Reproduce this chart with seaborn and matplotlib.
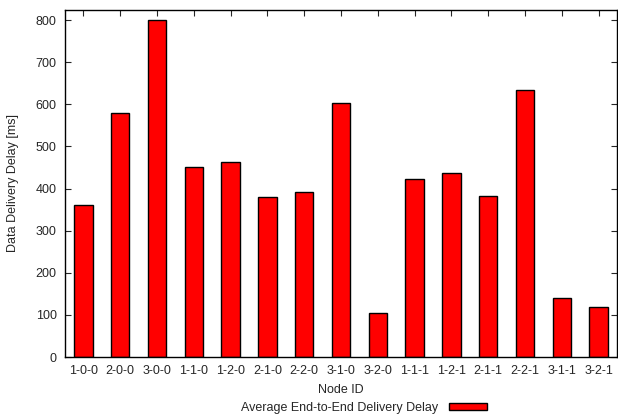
import matplotlib
matplotlib.use("Agg")
import matplotlib.pyplot as plt
import seaborn as sns
import pandas as pd
from matplotlib.patches import Patch

# data
nodes = ["1-0-0", "2-0-0", "3-0-0", "1-1-0", "1-2-0", "2-1-0", "2-2-0", "3-1-0",
         "3-2-0", "1-1-1", "1-2-1", "2-1-1", "2-2-1", "3-1-1", "3-2-1"]
delays = [361, 580, 800, 452, 464, 381, 393, 602, 105, 422, 436, 383, 635, 139, 118]
series_name = "Average End-to-End Delivery Delay"

df = pd.DataFrame({"Node": nodes, "Delay": delays})

sns.set_style("ticks")
plt.rcParams["font.family"] = ["Liberation Sans", "DejaVu Sans"]

fig = plt.figure(figsize=(6.18, 4.2), dpi=100)
ax = fig.add_axes([65 / 618, 1 - 357 / 420, 552 / 618, 347 / 420])

sns.barplot(data=df, x="Node", y="Delay", color="#ff0000", edgecolor="black",
            linewidth=1.0, width=0.5, saturation=1, ax=ax)

ax.set_xlim(-0.5, len(nodes) - 0.5)
ax.set_ylim(0, 824)
ax.set_yticks(range(0, 801, 100))
ax.set_xlabel("Node ID", fontsize=9, labelpad=5)
ax.set_ylabel("Data Delivery Delay [ms]", fontsize=9, labelpad=12)
ax.tick_params(axis="both", direction="in", top=True, right=True, labelsize=9,
               length=4, width=0.8, pad=6)
for sp in ax.spines.values():
    sp.set_visible(True)
    sp.set_linewidth(1.0)
    sp.set_color("black")

handle = Patch(facecolor="#ff0000", edgecolor="black", linewidth=1.0)
fig.legend([handle], [series_name], loc="center", bbox_to_anchor=(364 / 618, 1 - 408 / 420),
           frameon=False, markerfirst=False, fontsize=9, handlelength=3.0,
           handleheight=0.55, handletextpad=0.9, borderpad=0)

fig.savefig("out.png", dpi=100)
